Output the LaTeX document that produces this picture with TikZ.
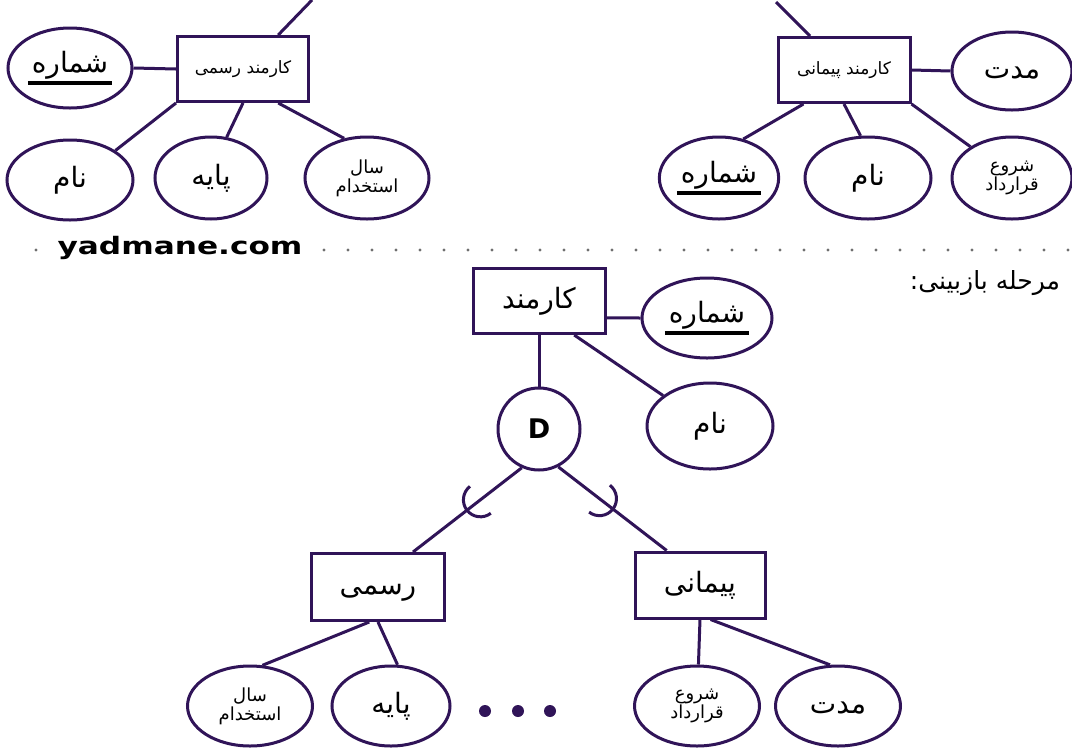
\documentclass[tikz,border=0pt]{standalone}
\usepackage{fontspec}
\setsansfont{DejaVu Sans}
\newfontfamily\fafont[Script=Arabic]{DejaVu Sans}
\usetikzlibrary{shapes.geometric,decorations.markings}
\definecolor{erink}{RGB}{48,20,88}
\definecolor{dotgray}{RGB}{110,110,110}
\TeXXeTstate=1
\newcommand{\fa}[1]{{\fafont\beginR #1\endR}}
\newcommand{\keytxt}[1]{\setbox0=\hbox{\fa{#1}}\vbox{\hbox{\kern4pt\copy0\kern4pt}\kern2pt\hrule height 3.5pt width \dimexpr\wd0+8pt\relax}}

\begin{document}
\begin{tikzpicture}[
  x=1pt, y=-1pt,
  every node/.style={text=black},
  entity/.style={rectangle, draw=erink, line width=3pt, fill=white, inner sep=0pt},
  attr/.style={ellipse, draw=erink, line width=3pt, fill=white, inner sep=0pt, minimum width=124pt, minimum height=80pt},
  disj/.style={circle, draw=erink, line width=3pt, fill=white, minimum size=82pt, inner sep=0pt, font=\sffamily\bfseries\fontsize{27}{30}\selectfont},
  link/.style={draw=erink, line width=3pt},
  subset/.style={link, postaction={decorate}, decoration={markings, mark=at position .38 with {\draw[link] (0,17pt) arc[start angle=90, end angle=-90, radius=17pt];}}},
  keytxtfont/.style={font=\fontsize{28}{32}\selectfont},
  bigtxt/.style={font=\fontsize{28}{32}\selectfont, text height=15pt, text depth=0pt},
  smalltxt/.style={font=\fontsize{18}{19}\selectfont, align=center},
  tinytxt/.style={font=\fontsize{17}{19}\selectfont, text height=9pt, text depth=0pt},
]
\useasboundingbox[fill=white] (0,0) rectangle (1072,748);

% ---- separator ----
\foreach \i in {0,...,43}
  \fill[dotgray] (36+24*\i,250) circle (1.6pt);
\node[fill=white, inner sep=2pt, font=\sffamily\bfseries\fontsize{24}{28}\selectfont] (site) at (180,248) {\scalebox{1.3}[1]{yadmane.com}};
\node[font=\fontsize{25}{28}\selectfont] (stage) at (985,283) {\fa{مرحله بازبینی:}};

% ---- top left: official employee ----
\node[entity, minimum width=131pt, minimum height=65pt, tinytxt] (e1) at (243,69) {\fa{کارمند رسمی}};
\node[attr, keytxtfont] (k1) at (70,68) {\keytxt{شماره}};
\node[attr, bigtxt, minimum width=126pt] (n1) at (70,180) {\fa{نام}};
\node[attr, bigtxt, minimum width=112pt, minimum height=82pt] (p1) at (211,178) {\fa{پایه}};
\node[attr, smalltxt, minimum height=82pt] (s1) at (367,178) {\fa{سال}\\\fa{استخدام}};
\coordinate (up1) at (312,0);

% ---- top right: contract employee ----
\node[entity, minimum width=132pt, minimum height=65pt, tinytxt] (e2) at (844,70) {\fa{کارمند پیمانی}};
\node[attr, bigtxt, minimum width=120pt, minimum height=78pt] (d2) at (1012,71) {\fa{مدت}};
\node[attr, keytxtfont, minimum width=108pt, minimum height=82pt] (k2) at (719,178) {\keytxt{شماره}};
\node[attr, bigtxt, minimum width=126pt, minimum height=82pt] (n2) at (868,178) {\fa{نام}};
\node[attr, smalltxt, minimum width=120pt, minimum height=82pt] (q2) at (1012,178) {\fa{شروع}\\\fa{قرارداد}};
\coordinate (up2) at (776,2);

% ---- bottom: generalization ----
\node[entity, minimum width=132pt, minimum height=65pt, bigtxt] (e0) at (539,301) {\fa{کارمند}};
\node[attr, keytxtfont, minimum width=130pt] (k0) at (707,318) {\keytxt{شماره}};
\node[attr, bigtxt, minimum width=126pt, minimum height=86pt] (n0) at (710,426) {\fa{نام}};
\node[disj] (d0) at (539,429) {D};
\node[entity, minimum width=133pt, minimum height=67pt, bigtxt] (e3) at (378,587) {\fa{رسمی}};
\node[entity, minimum width=130pt, minimum height=66pt, bigtxt] (e4) at (700,585) {\fa{پیمانی}};
\node[attr, smalltxt, minimum width=125pt] (s3) at (250,706) {\fa{سال}\\\fa{استخدام}};
\node[attr, bigtxt, minimum width=118pt] (p3) at (391,706) {\fa{پایه}};
\node[attr, smalltxt, minimum width=125pt] (q4) at (697,706) {\fa{شروع}\\\fa{قرارداد}};
\node[attr, bigtxt, minimum width=125pt] (d4) at (838,706) {\fa{مدت}};
\foreach \x in {485,518,550}
  \fill[erink] (\x,711) circle (6pt);

% ---- edges ----
\draw[link] (e1.44) -- (up1);
\draw[link] (k1.east) -- (e1.west);
\draw[link] (e1.south west) -- (n1.33);
\draw[link] (e1.south) -- (p1.69);
\draw[link] (e1.-44) -- (s1.120);

\draw[link] (e2.135) -- (up2);
\draw[link] (e2.east) -- (d2.west);
\draw[link] (e2.220) -- (k2.58);
\draw[link] (e2.south) -- (n2.100);
\draw[link] (e2.south east) -- (q2.143);

\draw[link] (e0.-14) -- (k0.west);
\draw[link] (e0.-44) -- (n0.147);
\draw[link] (e0.south) -- (d0.north);
\draw[subset] (d0.246) -- (e3.45);
\draw[subset] (d0.297) -- (e4.134);
\draw[link] (e3.256) -- (s3.73);
\draw[link] (e3.south) -- (p3.81);
\draw[link] (e4.south) -- (q4.88);
\draw[link] (e4.-73) -- (d4.101);

\end{tikzpicture}
\end{document}
